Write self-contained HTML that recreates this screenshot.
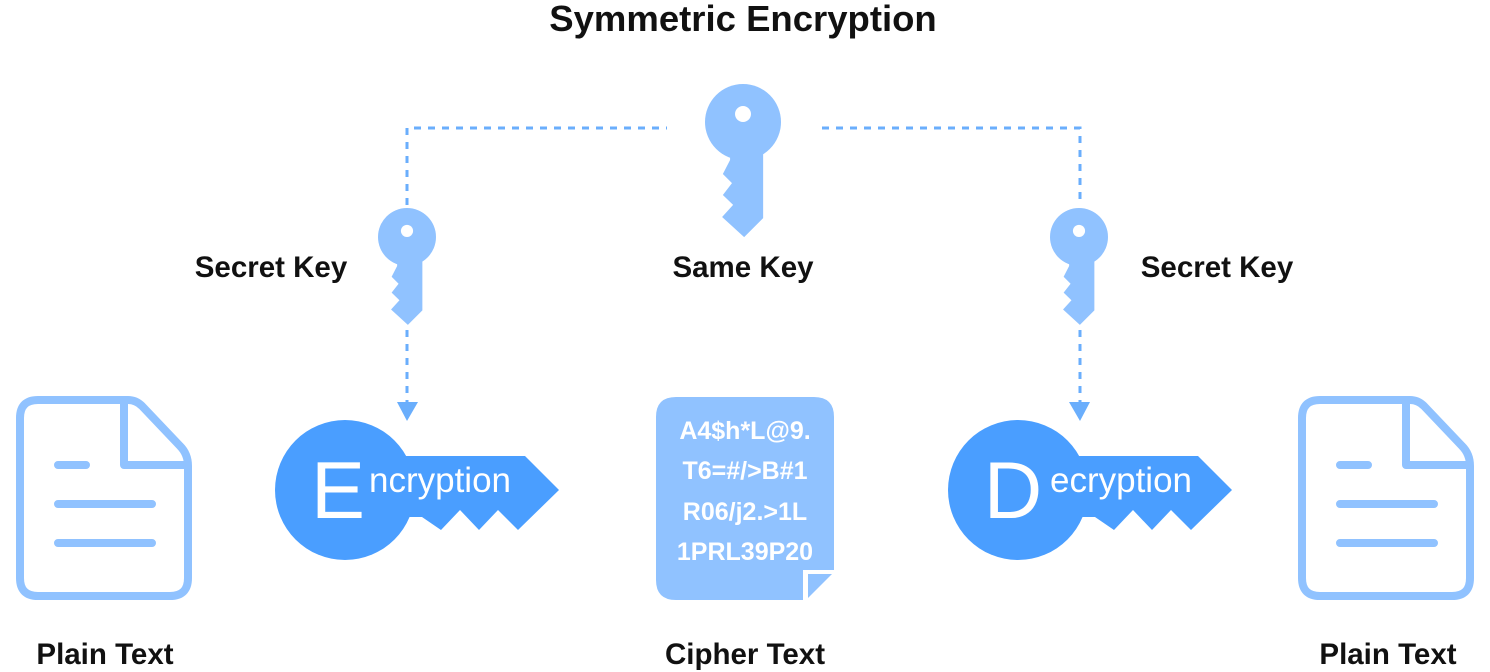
<!DOCTYPE html>
<html><head><meta charset="utf-8"><style>
html,body{margin:0;padding:0;background:#fff;}
svg{display:block}
text{font-family:"Liberation Sans",sans-serif;font-weight:bold}
</style></head><body>
<svg width="1490" height="672" viewBox="0 0 1490 672" xmlns="http://www.w3.org/2000/svg">
<defs>
<g id="key">
<circle cx="0" cy="0" r="1" fill="#90c2ff"/>
<polygon fill="#90c2ff" points="-0.34,0.9 -0.34,1.0 -0.53,1.37 -0.29,1.61 -0.53,1.92 -0.26,2.18 -0.55,2.5 0.03,3.03 0.53,2.53 0.53,0.8"/>
<circle cx="0" cy="-0.21" r="0.21" fill="#fff"/>
</g>
<g id="bigkey">
<circle cx="0" cy="0" r="70" fill="#4a9eff"/>
<polygon fill="#4a9eff" points="50,-34 180,-34 214,0 173,40 153,20 134,40 115,20 96,40 77,27 50,27"/>
</g>
<g id="doc" fill="none" stroke="#90c2ff" stroke-width="8" stroke-linecap="round" stroke-linejoin="round">
<path d="M38,400 H128 Q136,400 142,406 L180,446 Q188,454 188,466 V578 Q188,596 170,596 H38 Q20,596 20,578 V418 Q20,400 38,400 Z"/>
<path d="M124,402 V465 H186"/>
<path d="M58,465 H86 M58,504 H152 M58,543 H152"/>
</g>
</defs>

<text x="743" y="31" font-size="36.5" text-anchor="middle" fill="#111">Symmetric Encryption</text>

<g stroke="#6aaefc" stroke-width="3" stroke-dasharray="7,7" fill="none">
<path d="M407,205 V128 H667"/>
<path d="M822,128 H1080 V205"/>
<path d="M407,330 V402"/>
<path d="M1080,330 V402"/>
</g>
<polygon points="397,402 418,402 407,421" fill="#6aaefc"/>
<polygon points="1069,402 1090,402 1080,421" fill="#6aaefc"/>

<use href="#key" transform="translate(743,122) scale(38)"/>
<use href="#key" transform="translate(407,237) scale(29)"/>
<use href="#key" transform="translate(1079,237) scale(29)"/>

<g font-size="29.5" text-anchor="middle" fill="#111">
<text x="271" y="277">Secret Key</text>
<text x="743" y="277">Same Key</text>
<text x="1217" y="277">Secret Key</text>
<text x="105" y="664">Plain Text</text>
<text x="745" y="664">Cipher Text</text>
<text x="1388" y="664">Plain Text</text>
</g>

<use href="#doc"/>
<use href="#doc" transform="translate(1282,0)"/>

<use href="#bigkey" transform="translate(345,490)"/>
<use href="#bigkey" transform="translate(1018,490)"/>
<text x="338" y="518" font-size="81" text-anchor="middle" fill="#fff" style="font-weight:normal">E</text>
<text x="369" y="492" font-size="35" fill="#fff" style="font-weight:normal">ncryption</text>
<text x="1013" y="518" font-size="81" text-anchor="middle" fill="#fff" style="font-weight:normal">D</text>
<text x="1050" y="492" font-size="35" fill="#fff" style="font-weight:normal">ecryption</text>

<path d="M676,397 H814 Q834,397 834,417 V570 H803 V600 H676 Q656,600 656,580 V417 Q656,397 676,397 Z" fill="#90c2ff"/>
<polygon points="808,574 832,574 808,598" fill="#90c2ff"/>
<g font-size="25" fill="#fff" text-anchor="middle">
<text x="745" y="439">A4$h*L@9.</text>
<text x="745" y="479">T6=#/&gt;B#1</text>
<text x="745" y="520">R06/j2.&gt;1L</text>
<text x="745" y="560">1PRL39P20</text>
</g>
</svg>
</body></html>
